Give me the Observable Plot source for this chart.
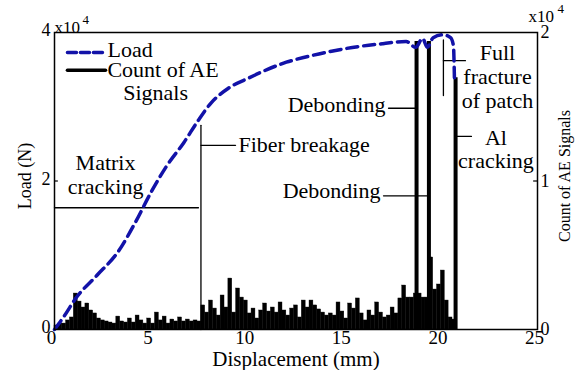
<!DOCTYPE html>
<html><head><meta charset="utf-8">
<script src="https://cdn.jsdelivr.net/npm/d3@7"></script>
<script src="https://cdn.jsdelivr.net/npm/@observablehq/plot@0.6"></script>
<style>body{margin:0;background:#fff}</style>
</head><body><div id="chart"></div>
<script>
// ---- data ----
const binWidth = 0.2; // mm, width of each AE histogram bin
const aeCounts = [
  270,400,400,610,810,2420,1880,1480,1750,1280,
  1080,740,610,540,470,400,870,540,470,740,
  470,940,610,400,740,400,1140,610,870,400,
  670,540,810,540,670,540,610,540,
  1620,1140,1950,1410,940,2290,1480,3430,1140,2760,
  2150,1950,1080,1410,740,1280,1750,1210,1480,1140,
  1820,1280,940,1410,1620,810,1950,1480,1950,1620,
  1350,1140,940,1080,940,1820,1210,740,1750,1410,
  2090,1080,610,1280,940,1820,1140,810,940,1480,
  1080,2090,2960,2150,2150,2420,2420,2150,2150,4850,
  2690,3030,3970,1950,810,670
];
const spikeX = [18.74, 19.38, 20.76];
const spikeCounts = [19400, 19400, 16950];
const loadX = [0,0.5,1.1,2.2,3.3,4.2,5.0,5.8,6.7,7.4,8.1,9.0,10,11,12,13,14,15,16,17,18.2,18.7,19.05,19.3,19.6,20.1,20.5,20.65,20.7];
const loadY = [0,0.18,0.42,0.73,1.05,1.45,1.85,2.2,2.52,2.8,3.05,3.25,3.38,3.5,3.6,3.67,3.73,3.78,3.82,3.85,3.88,3.80,3.92,3.80,3.93,3.97,3.93,3.82,3.39]; // x10^4 N
const xTicks = [0,5,10,15,20,25];
const loadTicks = [0,2,4];     // x10^4
const countTicks = [0,1,2];    // x10^4
const LOAD_MAX = 4, COUNT_MAX = 2; // both in x10^4

const c2l = c => c / 1e4 * LOAD_MAX / COUNT_MAX;
const bins = aeCounts.map((c, i) => ({x1: i * binWidth, x2: (i + 1) * binWidth, count: c}));
const spikes = spikeX.map((x, i) => ({x, count: spikeCounts[i]}));
const load = loadX.map((x, i) => ({x, y: loadY[i]}));

const BLUE = "#1212a8";
const F = 22;
const seg = (a, b, o = {}) => Plot.line([a, b], {stroke: "black", strokeWidth: 1.3, ...o});
const T = (s, o) => Plot.text([s], {fontSize: F, lineAnchor: "middle", ...o});

const chart = Plot.plot({
  width: 575, height: 370,
  marginLeft: 54, marginRight: 38, marginTop: 32, marginBottom: 41,
  style: {fontFamily: "Liberation Serif", fontSize: F + "px", background: "white", color: "black"},
  x: {domain: [0, 25]},
  y: {domain: [0, LOAD_MAX]},
  marks: [
    Plot.rectY(bins, {x1: "x1", x2: "x2", y: d => c2l(d.count), fill: "black", stroke: "black", strokeWidth: 0.4}),
    Plot.ruleX(spikes, {x: "x", y1: 0, y2: d => c2l(d.count), stroke: "black", strokeWidth: 4}),
    // annotation lines
    seg([0, 1.64], [7.45, 1.64]),
    seg([7.58, 0], [7.58, 2.75]),
    seg([7.58, 2.48], [9.37, 2.48]),
    seg([17.29, 2.98], [18.72, 2.98]),
    seg([17.03, 1.80], [19.36, 1.80]),
    seg([20.13, 3.9], [20.13, 3.15]),
    seg([20.13, 3.62], [21.27, 3.62]),
    seg([20.76, 2.6], [21.58, 2.6]),
    // inward ticks
    Plot.ruleY([loadTicks[1]], {x1: 0, x2: 0.2, stroke: "black", strokeWidth: 1.2}),
    Plot.ruleY([countTicks[1] * LOAD_MAX / COUNT_MAX], {x1: 24.8, x2: 25, stroke: "black", strokeWidth: 1.2}),
    // load curve
    Plot.line(load, {x: "x", y: "y", stroke: BLUE, strokeWidth: 3.5, strokeDasharray: "11,6", curve: "monotone-x"}),
    // legend
    seg([0.67, 3.73], [2.64, 3.73], {stroke: BLUE, strokeWidth: 3.5, strokeDasharray: "9,4"}),
    seg([0.67, 3.49], [2.64, 3.49], {strokeWidth: 3.5}),
    T("Load", {x: 2.74, y: 3.76, textAnchor: "start"}),
    T("Count of AE", {x: 2.74, y: 3.49, textAnchor: "start"}),
    T("Signals", {x: 5.23, y: 3.18}),
    // annotation texts
    T("Matrix\ncracking", {x: 2.64, y: 2.09, lineHeight: 1.1}),
    T("Fiber breakage", {x: 9.52, y: 2.48, textAnchor: "start"}),
    T("Debonding", {x: 17.13, y: 3.03, textAnchor: "end"}),
    T("Debonding", {x: 16.87, y: 1.87, textAnchor: "end"}),
    T("Full\nfracture\nof patch", {x: 22.93, y: 3.41, lineHeight: 1.1}),
    T("Al\ncracking", {x: 22.85, y: 2.43, lineHeight: 1.05}),
    Plot.frame({stroke: "black", strokeWidth: 1.5}),
    // axes
    Plot.axisX(xTicks, {anchor: "bottom", tickSize: 0, tickPadding: 1, dx: -3, fontSize: 19, label: null, tickFormat: d => String(d)}),
    Plot.axisY(loadTicks, {anchor: "left", tickSize: 0, tickPadding: 4, dy: -2, fontSize: 18, label: null, tickFormat: d => String(d)}),
    Plot.axisY(countTicks.map(t => t * LOAD_MAX / COUNT_MAX), {anchor: "right", tickSize: 0, tickPadding: 3, dy: 0, fontSize: 18, label: null, tickFormat: d => String(d * COUNT_MAX / LOAD_MAX)}),
    T("Displacement (mm)", {frameAnchor: "bottom", textAnchor: "middle", dy: 30, fontSize: 21}),
    T("Load (N)", {frameAnchor: "left", textAnchor: "middle", rotate: -90, dx: -29, dy: -5, fontSize: 18}),
    T("Count of AE Signals", {frameAnchor: "right", textAnchor: "middle", rotate: -90, dx: 27, dy: -5, fontSize: 16}),
    // x10^4 exponents
    T("x10", {frameAnchor: "top-left", textAnchor: "start", lineAnchor: "bottom", dx: 0, dy: 0, fontSize: 17}),
    T("4", {frameAnchor: "top-left", textAnchor: "start", lineAnchor: "bottom", dx: 28, dy: -9, fontSize: 13}),
    T("x10", {frameAnchor: "top-right", textAnchor: "start", lineAnchor: "bottom", dx: -9, dy: -11, fontSize: 17}),
    T("4", {frameAnchor: "top-right", textAnchor: "start", lineAnchor: "bottom", dx: 20, dy: -20, fontSize: 13})
  ]
});
document.getElementById("chart").appendChild(chart);
</script>
</body></html>
